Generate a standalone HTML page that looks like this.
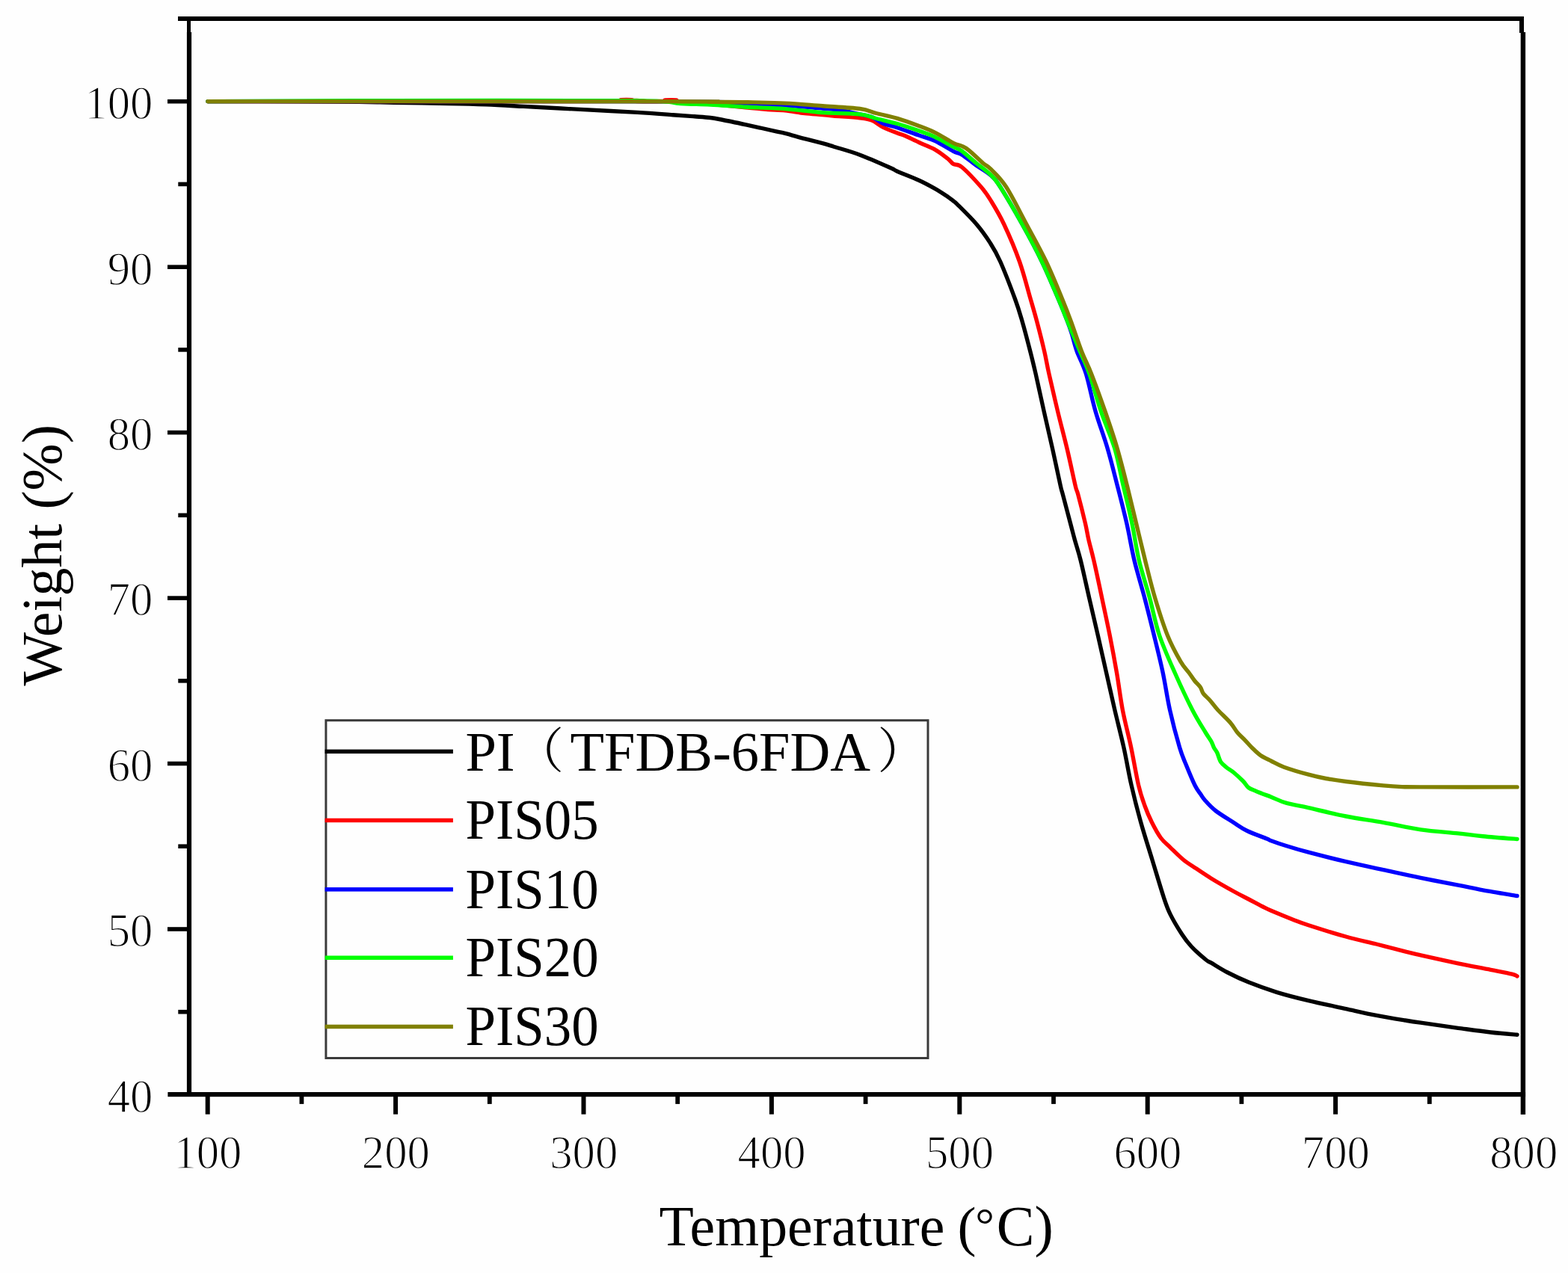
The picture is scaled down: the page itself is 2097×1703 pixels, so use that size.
<!DOCTYPE html>
<html lang="en">
<head>
<meta charset="utf-8">
<title>TGA curves</title>
<style>
html,body{margin:0;padding:0;background:#fefefe;}
body{width:2097px;height:1703px;overflow:hidden;}
svg{display:block;}
text{font-family:"Liberation Serif","Noto Serif CJK SC",serif;fill:#000;}
.tk{font-size:61px;stroke:#fefefe;stroke-width:1.3px;}
.lb{font-size:74.5px;}
.c{fill:none;stroke-width:5.4;stroke-linejoin:round;stroke-linecap:round;}
</style>
</head>
<body>
<svg width="2097" height="1703" viewBox="0 0 2097 1703">
<rect x="0" y="0" width="2097" height="1703" fill="#fefefe"/>

<g class="c">
<path d="M278.0,135.6C298.3,135.6 366.3,135.6 400.0,135.7C433.7,135.8 458.8,136.1 480.0,136.3C501.2,136.6 507.0,136.8 527.0,137.2C547.0,137.6 579.5,138.1 600.0,138.5C620.5,138.9 633.3,139.2 650.0,139.8C666.7,140.5 683.3,141.5 700.0,142.4C716.7,143.3 737.3,144.3 750.0,145.0C762.7,145.7 759.2,145.5 776.3,146.4C793.4,147.3 832.0,149.2 852.6,150.4C873.2,151.6 887.3,152.8 900.0,153.7C912.7,154.6 920.6,155.2 928.9,155.8C937.2,156.4 943.6,156.7 950.0,157.5C956.4,158.3 958.7,158.9 967.0,160.5C975.3,162.1 988.1,164.8 1000.0,167.3C1011.9,169.9 1029.9,174.0 1038.2,175.8C1046.5,177.7 1043.7,176.8 1050.0,178.4C1056.3,180.0 1068.0,183.4 1076.3,185.6C1084.6,187.8 1093.6,190.0 1100.0,191.7C1106.4,193.4 1106.2,193.4 1114.5,196.0C1122.8,198.6 1137.3,202.4 1150.0,207.2C1162.7,211.9 1182.5,220.8 1190.8,224.5C1199.1,228.2 1193.6,226.4 1200.0,229.2C1206.4,232.0 1220.7,237.4 1229.0,241.2C1237.3,245.0 1243.6,248.5 1250.0,252.1C1256.4,255.7 1263.0,260.2 1267.2,263.0C1271.4,265.8 1272.9,267.2 1275.0,268.9C1277.1,270.6 1274.8,267.9 1280.0,273.1C1285.2,278.3 1298.6,291.3 1306.0,300.0C1313.4,308.7 1319.2,317.1 1324.5,325.4C1329.8,333.7 1332.3,337.6 1337.8,350.0C1343.3,362.4 1352.6,386.7 1357.5,400.0C1362.4,413.3 1363.7,418.3 1367.1,430.0C1370.5,441.7 1374.8,458.3 1377.8,470.0C1380.8,481.7 1382.0,486.7 1385.1,500.0C1388.1,513.3 1392.4,533.3 1396.1,550.0C1399.8,566.7 1403.8,583.3 1407.5,600.0C1411.2,616.7 1416.0,639.9 1418.3,650.0C1420.6,660.1 1419.0,652.6 1421.2,660.9C1423.4,669.2 1428.8,689.8 1431.5,700.0C1434.2,710.2 1435.0,713.7 1437.3,722.0C1439.6,730.3 1442.1,737.0 1445.3,750.0C1448.5,763.0 1452.9,783.3 1456.7,800.0C1460.5,816.7 1464.5,833.3 1468.3,850.0C1472.1,866.7 1475.8,883.3 1479.6,900.0C1483.4,916.7 1487.0,933.3 1490.9,950.0C1494.8,966.7 1499.2,983.3 1502.9,1000.0C1506.6,1016.7 1509.2,1033.3 1513.0,1050.0C1516.8,1066.7 1521.0,1083.3 1525.7,1100.0C1530.4,1116.7 1535.8,1133.3 1540.9,1150.0C1546.0,1166.7 1552.2,1187.8 1556.2,1200.0C1560.2,1212.2 1561.0,1214.8 1565.1,1223.1C1569.2,1231.4 1576.1,1242.8 1580.8,1250.0C1585.5,1257.2 1587.9,1260.4 1593.1,1266.0C1598.3,1271.6 1607.7,1279.8 1612.2,1283.5C1616.7,1287.2 1615.2,1285.4 1620.0,1288.2C1624.8,1291.0 1632.5,1296.2 1640.8,1300.5C1649.1,1304.8 1658.9,1309.6 1670.0,1314.1C1681.1,1318.6 1694.0,1323.2 1707.3,1327.3C1720.6,1331.4 1734.5,1334.9 1750.0,1338.6C1765.5,1342.3 1784.9,1346.3 1800.0,1349.6C1815.1,1352.9 1827.6,1355.8 1840.8,1358.4C1854.0,1361.0 1869.1,1363.4 1879.0,1365.0C1888.9,1366.6 1888.2,1366.5 1900.0,1368.2C1911.8,1369.9 1934.4,1373.2 1950.0,1375.3C1965.6,1377.4 1980.3,1379.5 1993.5,1381.0C2006.7,1382.5 2023.1,1383.7 2029.0,1384.2" stroke="#000"/>
<path d="M278.0,135.6C368.3,135.6 728.0,135.7 820.0,135.4C912.0,135.1 825.8,134.1 830.0,133.8C834.2,133.5 841.3,133.5 845.0,133.8C848.7,134.1 845.3,135.2 852.0,135.5C858.7,135.8 878.7,135.8 885.0,135.5C891.3,135.2 886.8,134.2 890.0,134.0C893.2,133.8 900.7,133.7 904.0,134.0C907.3,134.3 902.3,135.2 910.0,136.0C917.7,136.8 935.0,137.7 950.0,139.0C965.0,140.3 987.2,142.8 1000.0,144.0C1012.8,145.2 1018.4,145.9 1026.7,146.5C1035.0,147.1 1041.7,147.0 1050.0,147.8C1058.3,148.6 1068.0,150.6 1076.3,151.5C1084.6,152.4 1093.6,152.9 1100.0,153.5C1106.4,154.1 1106.2,154.3 1114.5,155.0C1122.8,155.7 1141.4,156.8 1150.0,157.8C1158.6,158.8 1160.8,158.9 1166.0,161.0C1171.2,163.1 1175.6,167.5 1181.3,170.3C1187.0,173.2 1195.2,176.2 1200.0,178.1C1204.8,180.0 1205.2,179.4 1210.0,181.5C1214.8,183.6 1222.3,187.4 1229.0,190.5C1235.7,193.6 1243.6,196.2 1250.0,199.8C1256.4,203.4 1263.0,208.7 1267.2,212.0C1271.4,215.3 1271.8,217.5 1275.0,219.4C1278.2,221.3 1280.1,218.4 1286.3,223.5C1292.5,228.6 1305.5,242.6 1312.0,250.0C1318.5,257.4 1319.9,259.9 1325.0,268.2C1330.1,276.5 1336.3,286.4 1342.7,300.0C1349.1,313.6 1357.6,333.3 1363.5,350.0C1369.4,366.7 1374.3,386.7 1378.2,400.0C1382.1,413.3 1383.6,418.3 1386.7,430.0C1389.8,441.7 1394.0,458.3 1396.7,470.0C1399.4,481.7 1399.9,486.7 1402.9,500.0C1405.9,513.3 1410.5,533.3 1414.5,550.0C1418.5,566.7 1423.0,583.3 1427.0,600.0C1431.0,616.7 1435.8,639.9 1438.2,650.0C1440.6,660.1 1439.4,652.6 1441.6,660.9C1443.8,669.2 1449.0,689.8 1451.4,700.0C1453.8,710.2 1454.0,713.7 1455.9,722.0C1457.8,730.3 1459.9,737.0 1462.9,750.0C1465.9,763.0 1470.2,783.3 1473.7,800.0C1477.2,816.7 1480.9,833.3 1484.2,850.0C1487.5,866.7 1490.6,883.3 1493.5,900.0C1496.4,916.7 1498.2,933.3 1501.4,950.0C1504.6,966.7 1509.2,983.3 1512.7,1000.0C1516.2,1016.7 1519.5,1037.0 1522.5,1050.0C1525.5,1063.0 1528.0,1069.7 1531.0,1078.0C1534.0,1086.3 1536.8,1092.8 1540.4,1100.0C1544.0,1107.2 1548.4,1115.4 1552.5,1121.0C1556.6,1126.6 1560.0,1128.8 1565.0,1133.6C1570.0,1138.4 1576.6,1145.2 1582.4,1150.0C1588.2,1154.8 1593.7,1157.9 1600.0,1162.1C1606.3,1166.3 1611.7,1170.1 1620.0,1175.2C1628.3,1180.3 1641.7,1187.9 1650.0,1192.5C1658.3,1197.1 1663.7,1199.7 1670.0,1203.0C1676.3,1206.3 1682.9,1210.0 1687.9,1212.5C1692.9,1215.0 1693.0,1215.3 1700.0,1218.3C1707.0,1221.3 1721.5,1227.2 1729.8,1230.4C1738.1,1233.7 1738.3,1234.0 1750.0,1237.8C1761.7,1241.6 1784.9,1248.8 1800.0,1253.0C1815.1,1257.2 1827.6,1259.7 1840.8,1263.0C1854.0,1266.3 1869.1,1270.3 1879.0,1272.8C1888.9,1275.3 1888.2,1275.1 1900.0,1277.8C1911.8,1280.5 1934.4,1285.5 1950.0,1288.8C1965.6,1292.0 1981.5,1294.9 1993.5,1297.3C2005.5,1299.7 2016.2,1301.7 2022.1,1303.1C2028.0,1304.5 2027.8,1305.4 2029.0,1305.9" stroke="#f00"/>
<path d="M278.0,135.6C381.7,135.6 779.7,135.2 900.0,135.8C1020.3,136.4 975.0,138.1 1000.0,139.0C1025.0,139.9 1033.3,140.0 1050.0,141.0C1066.7,142.0 1087.7,143.9 1100.0,145.0C1112.3,146.1 1115.7,146.2 1124.0,147.5C1132.3,148.8 1143.0,151.4 1150.0,152.9C1157.0,154.4 1160.8,154.4 1166.0,156.5C1171.2,158.6 1175.6,162.9 1181.3,165.3C1187.0,167.7 1192.0,168.1 1200.0,170.7C1208.0,173.3 1220.7,178.1 1229.0,181.0C1237.3,183.9 1242.3,184.8 1250.0,188.3C1257.7,191.9 1269.0,199.2 1275.0,202.3C1281.0,205.4 1281.2,203.8 1286.3,206.9C1291.3,210.0 1298.8,216.4 1305.3,221.0C1311.8,225.6 1319.6,229.7 1325.0,234.5C1330.4,239.3 1330.7,239.1 1337.7,250.0C1344.7,260.9 1357.8,283.3 1367.1,300.0C1376.4,316.7 1385.4,333.3 1393.4,350.0C1401.5,366.7 1409.7,386.7 1415.4,400.0C1421.1,413.3 1424.6,422.2 1427.6,430.0C1430.6,437.8 1431.4,440.3 1433.5,447.0C1435.6,453.7 1437.0,461.2 1440.2,470.0C1443.4,478.8 1448.3,486.7 1452.4,500.0C1456.5,513.3 1460.2,533.3 1465.0,550.0C1469.8,566.7 1476.3,583.3 1481.2,600.0C1486.1,616.7 1490.1,633.3 1494.4,650.0C1498.7,666.7 1503.0,683.3 1506.8,700.0C1510.6,716.7 1513.1,733.3 1517.1,750.0C1521.1,766.7 1526.4,783.3 1530.8,800.0C1535.2,816.7 1539.3,833.3 1543.4,850.0C1547.5,866.7 1551.7,883.3 1555.2,900.0C1558.7,916.7 1560.9,933.3 1564.6,950.0C1568.3,966.7 1573.9,987.5 1577.6,1000.0C1581.3,1012.5 1583.6,1016.6 1587.0,1025.0C1590.4,1033.4 1594.9,1044.2 1598.0,1050.5C1601.1,1056.8 1603.5,1059.2 1605.7,1062.5C1607.9,1065.8 1608.1,1066.8 1611.4,1070.5C1614.7,1074.2 1619.2,1079.5 1625.6,1084.5C1632.0,1089.5 1643.0,1096.0 1650.0,1100.5C1657.0,1105.0 1660.6,1107.9 1667.9,1111.5C1675.2,1115.1 1688.8,1119.8 1694.1,1122.0C1699.4,1124.2 1695.7,1123.1 1700.0,1124.7C1704.3,1126.3 1711.7,1128.9 1720.0,1131.5C1728.3,1134.1 1736.7,1136.7 1750.0,1140.2C1763.3,1143.7 1783.3,1148.8 1800.0,1152.7C1816.7,1156.6 1833.3,1160.1 1850.0,1163.7C1866.7,1167.3 1883.3,1171.0 1900.0,1174.4C1916.7,1177.8 1936.1,1181.4 1950.0,1184.1C1963.9,1186.8 1970.1,1188.4 1983.3,1190.8C1996.5,1193.2 2021.4,1197.2 2029.0,1198.5" stroke="#00f"/>
<path d="M278.0,135.6C319.5,135.4 431.7,134.7 527.0,134.6C622.3,134.5 786.2,134.2 850.0,134.8C913.8,135.5 893.3,137.6 910.0,138.5C926.7,139.4 935.0,139.3 950.0,140.1C965.0,140.9 983.3,142.4 1000.0,143.3C1016.7,144.2 1033.3,144.4 1050.0,145.6C1066.7,146.8 1083.3,149.4 1100.0,150.6C1116.7,151.8 1138.0,151.6 1150.0,152.9C1162.0,154.2 1163.5,156.4 1171.8,158.5C1180.1,160.6 1190.5,162.8 1200.0,165.5C1209.5,168.2 1220.7,172.1 1229.0,175.0C1237.3,177.9 1242.3,179.5 1250.0,183.1C1257.7,186.7 1269.0,193.2 1275.0,196.3C1281.0,199.5 1281.2,198.4 1286.3,202.0C1291.3,205.6 1298.8,212.7 1305.3,218.0C1311.8,223.3 1319.6,228.7 1325.0,234.0C1330.4,239.3 1330.7,239.0 1337.7,250.0C1344.7,261.0 1357.8,283.3 1367.1,300.0C1376.4,316.7 1385.4,333.3 1393.4,350.0C1401.5,366.7 1409.7,386.7 1415.4,400.0C1421.1,413.3 1422.8,418.3 1427.6,430.0C1432.4,441.7 1439.4,458.3 1444.3,470.0C1449.2,481.7 1452.2,486.7 1456.9,500.0C1461.6,513.3 1466.7,533.3 1472.3,550.0C1477.9,566.7 1485.8,583.3 1490.8,600.0C1495.8,616.7 1498.4,633.3 1502.3,650.0C1506.2,666.7 1510.4,683.3 1513.9,700.0C1517.4,716.7 1519.5,733.3 1523.4,750.0C1527.4,766.7 1533.1,783.3 1537.6,800.0C1542.1,816.7 1545.0,833.3 1550.6,850.0C1556.2,866.7 1563.8,883.3 1571.2,900.0C1578.6,916.7 1588.0,936.7 1594.8,950.0C1601.6,963.3 1608.1,973.0 1612.3,980.0C1616.5,987.0 1618.2,988.7 1620.0,992.0C1621.8,995.3 1622.1,997.5 1623.4,1000.0C1624.7,1002.5 1626.3,1003.9 1627.8,1007.0C1629.3,1010.1 1630.4,1015.6 1632.4,1018.9C1634.5,1022.1 1637.2,1024.1 1640.1,1026.5C1643.0,1028.9 1646.3,1030.4 1650.0,1033.5C1653.7,1036.6 1659.2,1041.7 1662.5,1045.0C1665.8,1048.3 1666.6,1051.3 1669.5,1053.5C1672.4,1055.7 1674.9,1056.3 1680.0,1058.4C1685.1,1060.5 1693.3,1063.6 1700.0,1066.2C1706.7,1068.8 1711.7,1071.8 1720.0,1074.2C1728.3,1076.6 1736.7,1077.7 1750.0,1080.7C1763.3,1083.7 1783.3,1088.7 1800.0,1092.0C1816.7,1095.3 1833.3,1097.4 1850.0,1100.4C1866.7,1103.4 1883.3,1107.4 1900.0,1109.8C1916.7,1112.2 1936.1,1113.4 1950.0,1114.9C1963.9,1116.4 1970.1,1117.4 1983.3,1118.7C1996.5,1120.0 2021.4,1121.9 2029.0,1122.5" stroke="#0f0"/>
<path d="M278.0,135.6C381.7,135.6 788.0,135.7 900.0,135.8C1012.0,135.9 933.3,136.2 950.0,136.4C966.7,136.6 983.3,136.5 1000.0,136.8C1016.7,137.1 1033.3,137.3 1050.0,138.1C1066.7,138.9 1083.3,140.5 1100.0,141.7C1116.7,142.9 1138.0,143.9 1150.0,145.5C1162.0,147.1 1163.5,149.3 1171.8,151.5C1180.1,153.7 1190.5,155.6 1200.0,158.4C1209.5,161.2 1220.7,165.4 1229.0,168.5C1237.3,171.6 1242.3,173.4 1250.0,177.2C1257.7,181.0 1269.0,188.3 1275.0,191.3C1281.0,194.3 1282.8,193.8 1286.3,195.4C1289.8,197.0 1291.0,197.2 1295.8,201.1C1300.6,204.9 1310.0,214.3 1314.9,218.5C1319.8,222.7 1319.9,220.9 1325.0,226.2C1330.1,231.4 1337.6,237.7 1345.6,250.0C1353.6,262.3 1363.9,283.3 1372.8,300.0C1381.7,316.7 1391.1,333.3 1399.1,350.0C1407.1,366.7 1415.1,386.7 1420.6,400.0C1426.1,413.3 1428.0,418.3 1432.3,430.0C1436.6,441.7 1442.0,458.3 1446.5,470.0C1451.0,481.7 1454.3,486.7 1459.5,500.0C1464.7,513.3 1472.0,533.3 1477.8,550.0C1483.6,566.7 1489.3,583.3 1494.2,600.0C1499.1,616.7 1503.2,633.3 1507.4,650.0C1511.6,666.7 1515.5,683.3 1519.5,700.0C1523.5,716.7 1527.4,733.3 1531.6,750.0C1535.8,766.7 1539.7,783.3 1544.7,800.0C1549.7,816.7 1555.7,835.8 1561.4,850.0C1567.1,864.2 1574.2,876.8 1579.0,885.1C1583.8,893.4 1587.0,895.8 1590.1,900.0C1593.2,904.2 1595.0,907.3 1597.5,910.5C1600.0,913.7 1603.3,916.4 1605.3,919.3C1607.3,922.2 1607.1,924.8 1609.3,927.8C1611.5,930.8 1614.9,933.3 1618.2,937.0C1621.5,940.7 1624.3,945.0 1628.9,950.0C1633.5,955.0 1641.5,962.2 1645.8,967.2C1650.1,972.2 1651.7,976.2 1654.9,980.0C1658.1,983.8 1661.7,986.8 1664.9,990.1C1668.1,993.4 1670.6,996.6 1674.1,1000.0C1677.6,1003.4 1681.5,1007.5 1685.8,1010.5C1690.1,1013.5 1694.8,1015.4 1700.0,1018.0C1705.2,1020.6 1708.9,1023.2 1717.2,1026.2C1725.5,1029.2 1740.7,1033.7 1750.0,1036.2C1759.3,1038.8 1765.0,1040.0 1773.3,1041.5C1781.6,1043.0 1787.2,1043.9 1800.0,1045.5C1812.8,1047.1 1837.5,1049.7 1850.0,1050.9C1862.5,1052.1 1866.7,1052.3 1875.0,1052.6C1883.3,1052.9 1874.3,1052.9 1900.0,1052.9C1925.7,1053.0 2007.5,1052.9 2029.0,1052.9" stroke="#808000"/>
</g>
<g fill="#000">
<rect x="238" y="22" width="1800" height="6"/>
<rect x="250" y="22" width="5" height="22"/>
<rect x="249.9" y="43" width="6.2" height="1424"/>
<rect x="2032" y="22" width="6" height="22"/>
<rect x="2033.7" y="43" width="6.4" height="1448"/>
<rect x="224.4" y="1461" width="1815.7" height="6.2"/>
<rect x="224" y="1240.2" width="27" height="5.6"/>
<rect x="224" y="1018.7" width="27" height="5.6"/>
<rect x="224" y="797.3" width="27" height="5.6"/>
<rect x="224" y="575.8" width="27" height="5.6"/>
<rect x="224" y="354.4" width="27" height="5.6"/>
<rect x="224" y="132.9" width="27" height="5.6"/>
<rect x="238.3" y="1350.9" width="13" height="5.6"/>
<rect x="238.3" y="1129.4" width="13" height="5.6"/>
<rect x="238.3" y="908.0" width="13" height="5.6"/>
<rect x="238.3" y="686.5" width="13" height="5.6"/>
<rect x="238.3" y="465.1" width="13" height="5.6"/>
<rect x="238.3" y="243.6" width="13" height="5.6"/>
<rect x="274.7" y="1465" width="6.0" height="25.7"/>
<rect x="526.1" y="1465" width="6.0" height="25.7"/>
<rect x="777.5" y="1465" width="6.0" height="25.7"/>
<rect x="1028.9" y="1465" width="6.0" height="25.7"/>
<rect x="1280.3" y="1465" width="6.0" height="25.7"/>
<rect x="1531.7" y="1465" width="6.0" height="25.7"/>
<rect x="1783.1" y="1465" width="6.0" height="25.7"/>
<rect x="400.5" y="1465" width="5.8" height="11.9"/>
<rect x="651.9" y="1465" width="5.8" height="11.9"/>
<rect x="903.3" y="1465" width="5.8" height="11.9"/>
<rect x="1154.7" y="1465" width="5.8" height="11.9"/>
<rect x="1406.1" y="1465" width="5.8" height="11.9"/>
<rect x="1657.5" y="1465" width="5.8" height="11.9"/>
<rect x="1908.9" y="1465" width="5.8" height="11.9"/>
</g>
<g class="tk">
<text transform="translate(204.4,1487.8) scale(0.995,1.055)" text-anchor="end">40</text>
<text transform="translate(204.4,1266.3) scale(0.995,1.055)" text-anchor="end">50</text>
<text transform="translate(204.4,1044.9) scale(0.995,1.055)" text-anchor="end">60</text>
<text transform="translate(204.4,823.4) scale(0.995,1.055)" text-anchor="end">70</text>
<text transform="translate(204.4,602.0) scale(0.995,1.055)" text-anchor="end">80</text>
<text transform="translate(204.4,380.6) scale(0.995,1.055)" text-anchor="end">90</text>
<text transform="translate(204.4,159.1) scale(0.995,1.055)" text-anchor="end">100</text>
<text transform="translate(277.9,1563.0) scale(0.995,1.055)" text-anchor="middle">100</text>
<text transform="translate(529.3,1563.0) scale(0.995,1.055)" text-anchor="middle">200</text>
<text transform="translate(780.7,1563.0) scale(0.995,1.055)" text-anchor="middle">300</text>
<text transform="translate(1032.1,1563.0) scale(0.995,1.055)" text-anchor="middle">400</text>
<text transform="translate(1283.5,1563.0) scale(0.995,1.055)" text-anchor="middle">500</text>
<text transform="translate(1534.9,1563.0) scale(0.995,1.055)" text-anchor="middle">600</text>
<text transform="translate(1786.3,1563.0) scale(0.995,1.055)" text-anchor="middle">700</text>
<text transform="translate(2037.7,1563.0) scale(0.995,1.055)" text-anchor="middle">800</text>
</g>
<g class="lb">
<text x="881.6" y="1666.2" style="font-size:75.8px">Temperature <tspan x="1280.5" style="font-size:75px">(</tspan><tspan x="1304.2" dy="-6.5" style="font-size:64px">°</tspan><tspan x="1332.8" dy="6.5" style="font-size:76px">C)</tspan></text>
<text transform="translate(81.6,742.8) rotate(-90)" text-anchor="middle" style="font-size:75.8px">Weight (%)</text>
</g>
<rect x="435.9" y="963.7" width="805.1" height="451.8" fill="#fefefe" stroke="#3a3a3a" stroke-width="3"/>
<g class="lb">
<rect x="434.6" y="1002.6" width="171.3" height="5.5" fill="#000"/>
<text x="622.4" y="1030.5">PI<tspan x="689" dy="-3.5" style="font-size:65px">（</tspan><tspan x="762.6" dy="3.5">TFDB-6FDA</tspan><tspan x="1173.5" dy="-3.5" style="font-size:65px">）</tspan></text>
<rect x="434.6" y="1094.7" width="171.3" height="5.5" fill="#f00"/>
<text transform="translate(622.4,1122.3) scale(0.985,1.02)" style="font-size:74px">PIS05</text>
<rect x="434.6" y="1187.1" width="171.3" height="5.5" fill="#00f"/>
<text transform="translate(622.4,1214.7) scale(0.985,1.02)" style="font-size:74px">PIS10</text>
<rect x="434.6" y="1278.5" width="171.3" height="5.5" fill="#0f0"/>
<text transform="translate(622.4,1306.1) scale(0.985,1.02)" style="font-size:74px">PIS20</text>
<rect x="434.6" y="1370.7" width="171.3" height="5.5" fill="#808000"/>
<text transform="translate(622.4,1398.3) scale(0.985,1.02)" style="font-size:74px">PIS30</text>
</g>
</svg>
</body>
</html>
